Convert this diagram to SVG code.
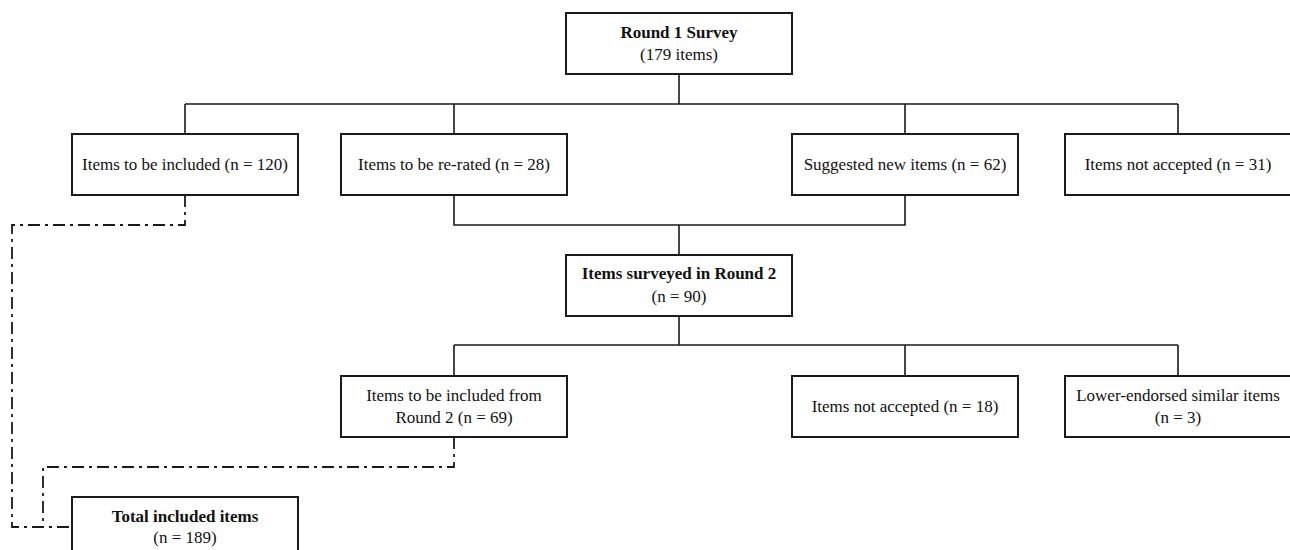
<svg xmlns="http://www.w3.org/2000/svg" width="1290" height="550" viewBox="0 0 1290 550">
<style>
.box{fill:#fff;stroke:#1a1a1a;stroke-width:2}
.ln{fill:none;stroke:#1a1a1a;stroke-width:1.6}
.dash{fill:none;stroke:#1a1a1a;stroke-width:1.8;stroke-dasharray:12,5,3,5}
text{font-family:"Liberation Serif","Times New Roman",serif;font-size:17px;fill:#111;text-anchor:middle}
.b{font-weight:bold}
</style>
<rect width="1290" height="550" fill="#fff"/>
<g id="connectors">
<path class="ln" d="M679,74V104M185,104H1178M185,104V134M454,104V134M905,104V134M1178,104V134"/>
<path class="ln" d="M454,195V225H905V195M679,225V255"/>
<path class="ln" d="M679,316V345M454,345H1178M454,345V376M905,345V376M1178,345V376"/>
<path class="dash" d="M185,195V225H12V527H72"/>
<path class="dash" d="M454,437V467H43V527"/>
</g>
<g id="round1"><rect class="box" x="566" y="13" width="226" height="61"/><text class="b" x="679" y="38">Round 1 Survey</text><text x="679" y="60">(179 items)</text></g>
<g id="included1"><rect class="box" x="72" y="134" width="226" height="61"/><text x="185" y="170">Items to be included (n = 120)</text></g>
<g id="rerated"><rect class="box" x="341" y="134" width="226" height="61"/><text x="454" y="170">Items to be re-rated (n = 28)</text></g>
<g id="suggested"><rect class="box" x="792" y="134" width="226" height="61"/><text x="905" y="170">Suggested new items (n = 62)</text></g>
<g id="notaccepted1"><rect class="box" x="1065" y="134" width="226" height="61"/><text x="1178" y="170">Items not accepted (n = 31)</text></g>
<g id="round2"><rect class="box" x="566" y="255" width="226" height="61"/><text class="b" x="679" y="279">Items surveyed in Round 2</text><text x="679" y="302">(n = 90)</text></g>
<g id="included2"><rect class="box" x="341" y="376" width="226" height="61"/><text x="454" y="401">Items to be included from</text><text x="454" y="423">Round 2 (n = 69)</text></g>
<g id="notaccepted2"><rect class="box" x="792" y="376" width="226" height="61"/><text x="905" y="412">Items not accepted (n = 18)</text></g>
<g id="lower"><rect class="box" x="1065" y="376" width="226" height="61"/><text x="1178" y="401">Lower-endorsed similar items</text><text x="1178" y="423">(n = 3)</text></g>
<g id="total"><rect class="box" x="72" y="497" width="226" height="61"/><text class="b" x="185" y="522">Total included items</text><text x="185" y="543">(n = 189)</text></g>
</svg>
